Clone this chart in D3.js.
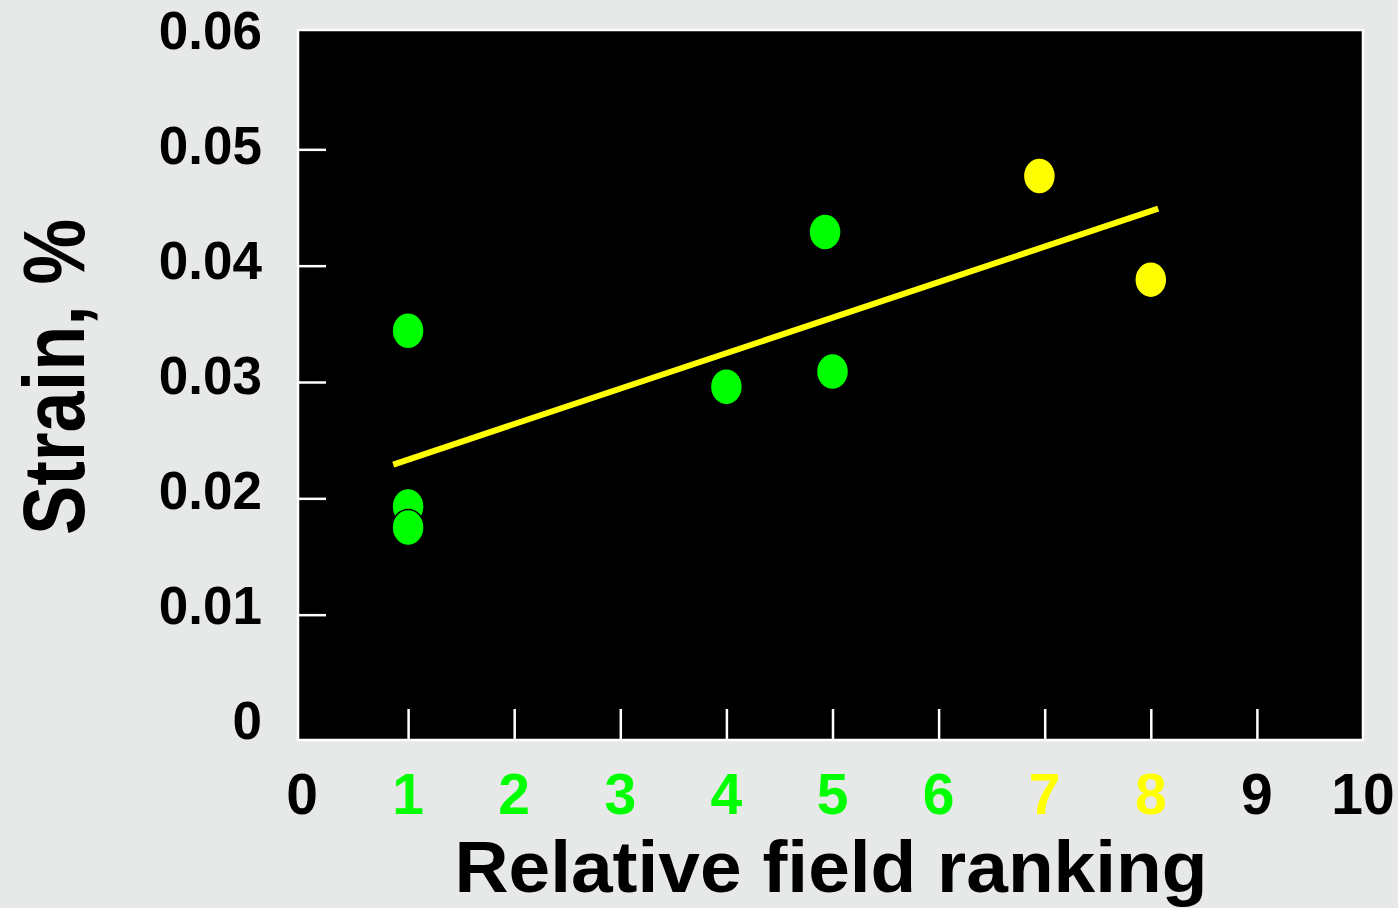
<!DOCTYPE html>
<html>
<head>
<meta charset="utf-8">
<script src="https://cdn.jsdelivr.net/npm/d3@7/dist/d3.min.js"></script>
<style>
  html, body { margin: 0; padding: 0; background: #e6e9e8; }
  svg { display: block; }
  text { font-family: "Liberation Sans", Arial, sans-serif; font-weight: bold; }
</style>
</head>
<body>
<svg id="chart" width="1398" height="908"></svg>
<script>
// ---- data ----
const rankings = [1, 1, 1, 4, 4.93, 5, 6.95, 8];
const strains  = [0.0344, 0.0193, 0.0175, 0.0296, 0.0429, 0.0309, 0.0477, 0.0388];
const trendRank   = [0.86, 8.07];
const trendStrain = [0.0229, 0.0449];
const xTickValues = [0, 1, 2, 3, 4, 5, 6, 7, 8, 9, 10];
const xTickLabels = ["0", "1", "2", "3", "4", "5", "6", "7", "8", "9", "10"];
const yTickValues = [0, 0.01, 0.02, 0.03, 0.04, 0.05, 0.06];
const yTickLabels = ["0", "0.01", "0.02", "0.03", "0.04", "0.05", "0.06"];
const xTitle = "Relative field ranking";
const yTitle = "Strain, %";

// ---- styles ----
const GREEN = "#00ff00", YELLOW = "#ffff00";
function rankColor(r) {
  if (r >= 1 && r <= 6.5) return GREEN;
  if (r > 6.5 && r <= 8) return YELLOW;
  return "#000";
}

const svg = d3.select("#chart");
const W = 1398, H = 908;
const frame = { left: 298, right: 1363, top: 30, bottom: 740 };

const x = d3.scaleLinear().domain([0, 10]).range([302, 1363]);
const y = d3.scaleLinear().domain([0, 0.06]).range([731, 33]);
// tick labels are laid out on a slightly tighter spacing than the tick marks
const yLabel = d3.scaleLinear().domain([0, 0.06]).range([720, 30]);

// background
svg.append("rect").attr("width", W).attr("height", H).attr("fill", "#e6e9e8");

// plot area
svg.append("rect")
  .attr("x", frame.left).attr("y", frame.top)
  .attr("width", frame.right - frame.left).attr("height", frame.bottom - frame.top)
  .attr("fill", "#000").attr("stroke", "#ffffff").attr("stroke-width", 2.5);

// y ticks (inward)
const yAxis = svg.append("g")
  .attr("transform", `translate(${frame.left},0)`)
  .call(d3.axisRight(y).tickValues(yTickValues.slice(1, -1)).tickSize(28).tickFormat(""));
yAxis.select(".domain").remove();
yAxis.selectAll(".tick line").attr("stroke", "#fff").attr("stroke-width", 2.5);

// x ticks (inward)
const xAxis = svg.append("g")
  .attr("transform", `translate(0,${frame.bottom})`)
  .call(d3.axisTop(x).tickValues(xTickValues.slice(1, -1)).tickSize(31).tickFormat(""));
xAxis.select(".domain").remove();
xAxis.selectAll(".tick line").attr("stroke", "#fff").attr("stroke-width", 2.5);

// y tick labels
const yFs = 53;
svg.append("g").selectAll("text")
  .data(yTickValues)
  .join("text")
  .attr("x", 262)
  .attr("y", d => yLabel(d) + 0.36 * yFs)
  .attr("text-anchor", "end")
  .attr("font-size", yFs)
  .attr("fill", "#000")
  .text((d, i) => yTickLabels[i]);

// x tick labels
svg.append("g").selectAll("text")
  .data(xTickValues)
  .join("text")
  .attr("x", d => x(d))
  .attr("y", 814)
  .attr("text-anchor", "middle")
  .attr("font-size", 57)
  .attr("fill", d => rankColor(d))
  .text((d, i) => xTickLabels[i]);

// trend line
const line = d3.line().x(d => x(d[0])).y(d => y(d[1]));
svg.append("path")
  .datum(trendRank.map((r, i) => [r, trendStrain[i]]))
  .attr("d", line)
  .attr("fill", "none")
  .attr("stroke", YELLOW)
  .attr("stroke-width", 6);

// points
svg.append("g").selectAll("ellipse")
  .data(rankings.map((r, i) => ({ r, s: strains[i] })))
  .join("ellipse")
  .attr("cx", d => x(d.r))
  .attr("cy", d => y(d.s))
  .attr("rx", 16)
  .attr("ry", 18)
  .attr("fill", d => rankColor(d.r))
  .attr("stroke", "#000")
  .attr("stroke-width", 1.5);

// axis titles
svg.append("text")
  .attr("transform", `translate(831,892) scale(1.04,1)`)
  .attr("text-anchor", "middle")
  .attr("font-size", 72)
  .attr("fill", "#000")
  .text(xTitle);

svg.append("text")
  .attr("transform", `translate(84,377) rotate(-90) scale(0.84,1)`)
  .attr("text-anchor", "middle")
  .attr("font-size", 88)
  .attr("fill", "#000")
  .text(yTitle);
</script>
</body>
</html>
